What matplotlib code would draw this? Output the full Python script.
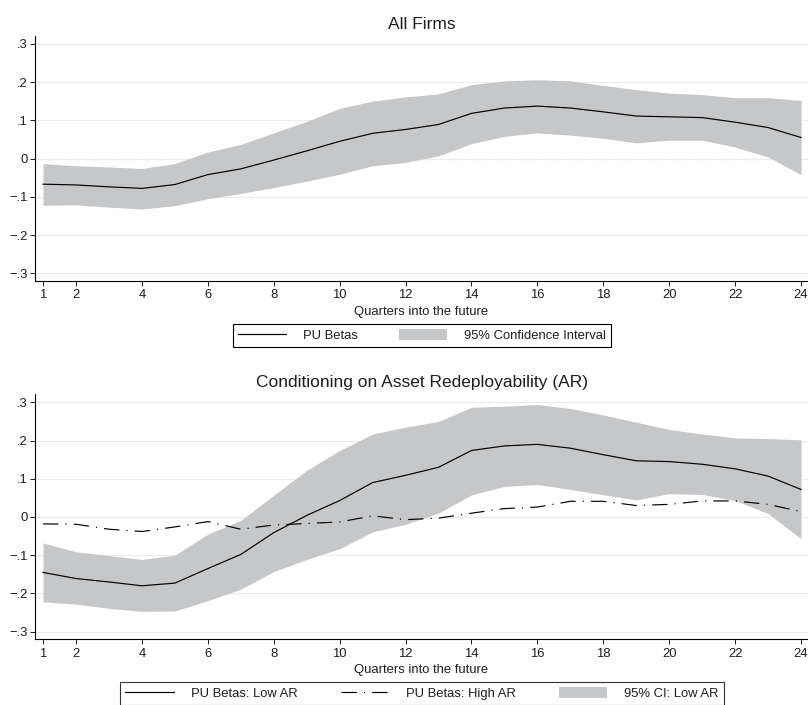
import matplotlib.pyplot as plt
from matplotlib.patches import Patch
from matplotlib.lines import Line2D

plt.rcParams['font.family'] = ['Liberation Sans', 'DejaVu Sans']

quarters = list(range(1, 25))

# all firms
all_beta = [-0.067, -0.069, -0.074, -0.078, -0.068, -0.042, -0.027, -0.004, 0.020, 0.045,
            0.066, 0.076, 0.089, 0.118, 0.132, 0.137, 0.132, 0.122, 0.111, 0.109,
            0.107, 0.095, 0.081, 0.055]
all_hi = [-0.013, -0.019, -0.022, -0.026, -0.013, 0.017, 0.037, 0.067, 0.097, 0.131,
          0.150, 0.161, 0.169, 0.193, 0.203, 0.206, 0.203, 0.191, 0.180, 0.171,
          0.167, 0.159, 0.159, 0.152]
all_lo = [-0.122, -0.121, -0.127, -0.132, -0.123, -0.105, -0.091, -0.076, -0.059, -0.041,
          -0.019, -0.010, 0.007, 0.039, 0.058, 0.067, 0.061, 0.053, 0.041, 0.048,
          0.048, 0.030, 0.004, -0.042]

# low / high asset redeployability
low_beta = [-0.145, -0.161, -0.170, -0.180, -0.173, -0.135, -0.098, -0.041, 0.004, 0.043,
            0.090, 0.109, 0.130, 0.174, 0.186, 0.190, 0.180, 0.163, 0.147, 0.145,
            0.138, 0.126, 0.107, 0.072]
low_hi = [-0.068, -0.091, -0.101, -0.111, -0.100, -0.045, -0.009, 0.057, 0.122, 0.174,
          0.217, 0.235, 0.250, 0.287, 0.290, 0.294, 0.284, 0.267, 0.248, 0.229,
          0.217, 0.207, 0.205, 0.202]
low_lo = [-0.222, -0.228, -0.239, -0.247, -0.246, -0.219, -0.189, -0.143, -0.111, -0.083,
          -0.039, -0.019, 0.010, 0.058, 0.080, 0.085, 0.072, 0.058, 0.045, 0.061,
          0.059, 0.043, 0.009, -0.057]
high_beta = [-0.018, -0.019, -0.032, -0.038, -0.026, -0.012, -0.032, -0.021, -0.017, -0.013,
             0.003, -0.007, -0.003, 0.010, 0.022, 0.026, 0.041, 0.041, 0.030, 0.033,
             0.042, 0.042, 0.033, 0.014]

yticks = [-0.3, -0.2, -0.1, 0, 0.1, 0.2, 0.3]
ylabels = ['\u2212.3', '\u2212.2', '\u2212.1', '0', '.1', '.2', '.3']
xticks = [1] + list(range(2, 25, 2))

band = '#c6c7c9'
txt = '#1e1e1e'
dashdot = (0, (13, 6, 1, 6))
fs = 9.4


def style(ax, title):
    ax.set_xlim(0.757, 24.21)
    ax.set_ylim(-0.32, 0.321)
    ax.set_xticks(xticks)
    ax.set_yticks(yticks)
    ax.set_yticklabels(ylabels)
    ax.grid(axis='y', color='#ececec', lw=0.8, zorder=0)
    ax.axhline(0, color='#bdbdbd', lw=0.8, ls=(0, (7, 3.6)), zorder=1)
    for s in ('top', 'right'):
        ax.spines[s].set_visible(False)
    for s in ('left', 'bottom'):
        ax.spines[s].set_linewidth(0.8)
    ax.tick_params(direction='out', length=3.6, width=0.7, labelsize=fs, pad=1.5,
                   colors=txt)
    ax.tick_params(axis='x', pad=2.5)
    ax.set_xlabel('Quarters into the future', fontsize=fs, labelpad=3, color=txt)
    ax.set_title(title, fontsize=12.5, pad=5, color=txt)


fig = plt.figure(figsize=(8.08, 7.05), dpi=100)
ax1 = fig.add_axes([35 / 808, 1 - 281 / 705, 773 / 808, 245.3 / 705])
ax2 = fig.add_axes([35 / 808, 1 - 639.3 / 705, 773 / 808, 245 / 705])

ax1.fill_between(quarters, all_lo, all_hi, color=band, lw=0, zorder=2)
ax1.plot(quarters, all_beta, color='black', lw=0.85, zorder=3)
style(ax1, 'All Firms')

ax2.fill_between(quarters, low_lo, low_hi, color=band, lw=0, zorder=2)
ax2.plot(quarters, low_beta, color='black', lw=0.85, zorder=3)
ax2.plot(quarters, high_beta, color='black', lw=0.85, ls=dashdot, zorder=3)
style(ax2, 'Conditioning on Asset Redeployability (AR)')

leg_kw = dict(loc='upper center', fontsize=fs, frameon=True, fancybox=False,
              framealpha=1, edgecolor='black', handlelength=3.7, handleheight=0.95,
              handletextpad=1.3, borderpad=0.4, borderaxespad=0, labelcolor=txt)

h1 = [Line2D([], [], color='black', lw=0.85), Patch(facecolor=band, lw=0)]
leg1 = fig.legend(h1, ['PU Betas', '95% Confidence Interval'], ncol=2,
                  columnspacing=3.1, bbox_to_anchor=(422 / 808, 1 - 323.5 / 705), **leg_kw)
leg1.get_frame().set_linewidth(0.8)

h2 = [Line2D([], [], color='black', lw=0.85),
      Line2D([], [], color='black', lw=0.85, ls=dashdot),
      Patch(facecolor=band, lw=0)]
leg2 = fig.legend(h2, ['PU Betas: Low AR', 'PU Betas: High AR', '95% CI: Low AR'], ncol=3,
                  columnspacing=3.3, bbox_to_anchor=(422 / 808, 1 - 681.5 / 705), **leg_kw)
leg2.get_frame().set_linewidth(0.8)
leg2.get_frame().set_edgecolor('#333333')

fig.savefig('out.png', dpi=100)
